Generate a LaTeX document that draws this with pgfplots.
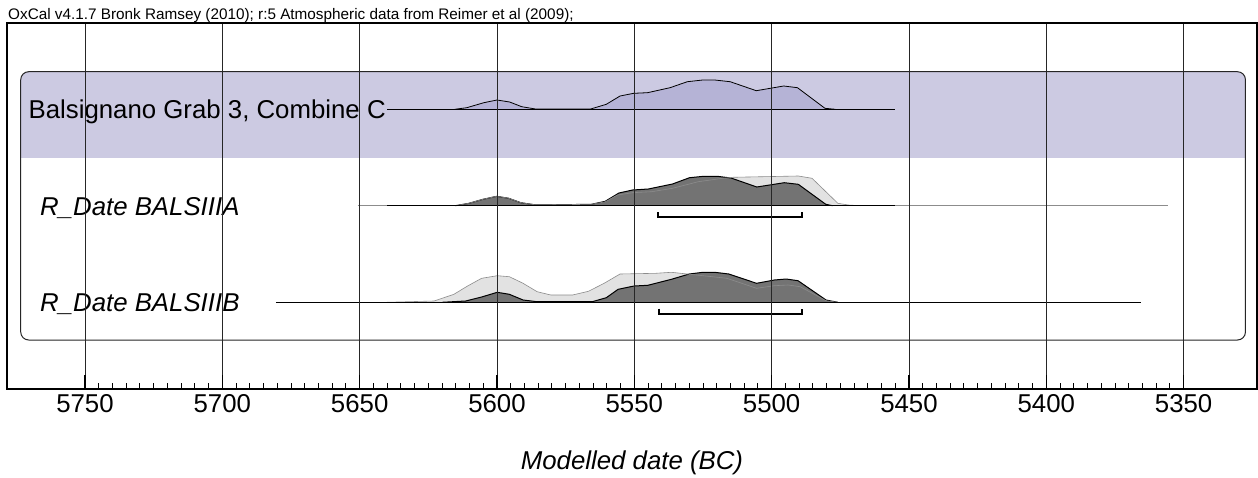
\documentclass[border=0pt]{standalone}
\usepackage{pgfplots}
\pgfplotsset{compat=1.18}
\usepackage{pgfplotstable}
\usepackage{fontspec}
\setmainfont{Liberation Sans}
\definecolor{band}{HTML}{CCCAE2}
\definecolor{combfill}{HTML}{B5B3D6}
\definecolor{post}{HTML}{737373}
\definecolor{like}{HTML}{E2E2E2}
\definecolor{likeline}{HTML}{8C8C8C}

% Row 1: Combine C (x = year BC, y = row position)
\pgfplotstableread{
x y
5615.4 109.3
5611.0 107.7
5604.8 102.7
5600.0 100.0
5595.4 102.0
5591.0 106.7
5586.0 109.0
5565.9 109.0
5560.2 104.3
5555.2 96.0
5550.2 93.3
5545.2 92.7
5537.0 87.7
5530.7 81.7
5525.1 80.0
5520.7 80.0
5515.1 81.7
5505.6 90.7
5495.6 86.0
5490.6 87.7
5480.6 108.3
5476.8 109.3
}\combC

% Row 2: BALSIIIA posterior
\pgfplotstableread{
x y
5615.2 205.7
5610.2 203.3
5605.1 199.3
5600.1 196.3
5595.7 198.3
5591.3 202.7
5585.7 205.0
5565.6 204.3
5560.6 201.3
5555.6 193.0
5550.6 190.0
5544.9 189.0
5536.1 184.0
5529.9 177.7
5524.8 176.3
5519.8 176.3
5514.8 178.0
5505.4 187.0
5495.4 182.7
5490.3 184.3
5480.3 204.3
5477.8 205.7
}\Apost

% Row 2: BALSIIIA likelihood
\pgfplotstableread{
x y
5615.2 205.7
5610.2 203.3
5605.1 199.3
5600.1 196.3
5595.7 198.3
5591.3 202.7
5585.7 205.0
5565.6 204.3
5560.6 201.8
5556.2 195.0
5550.6 192.7
5543.7 191.7
5536.1 188.3
5526.7 181.7
5517.9 178.3
5514.2 177.3
5490.3 176.0
5485.3 178.3
5475.9 203.3
5472.1 205.0
5467.8 205.7
}\Alike

% Row 3: BALSIIIB likelihood
\pgfplotstableread{
x y
5640.2 302.3
5622.9 301.0
5615.7 294.3
5610.7 286.0
5605.6 278.3
5599.9 275.7
5595.5 276.7
5590.5 283.3
5585.4 291.7
5580.4 295.0
5572.5 295.0
5566.7 291.3
5561.0 283.3
5555.2 274.0
5542.2 273.3
5536.5 272.3
5530.7 274.0
5525.0 275.7
5516.3 278.3
5505.5 288.3
5499.0 285.7
5494.0 285.0
5489.6 286.7
5480.2 300.7
5475.9 302.3
}\Blike

% Row 3: BALSIIIB posterior
\pgfplotstableread{
x y
5620.0 302.3
5611.4 301.0
5605.6 297.0
5599.9 292.3
5595.5 294.3
5590.5 300.0
5585.4 301.7
5565.3 301.7
5560.2 297.7
5555.9 289.3
5550.1 286.0
5545.1 285.3
5536.5 279.3
5530.0 274.0
5525.0 272.3
5520.7 272.3
5515.6 274.0
5505.5 283.3
5499.0 280.0
5494.7 279.0
5490.4 280.7
5480.2 300.0
5475.9 302.3
}\Bpost

\begin{document}
\begin{tikzpicture}
\useasboundingbox (0pt,0pt) rectangle (1258pt,-478pt);
\node[anchor=base west, inner sep=0, font=\fontsize{15.3}{18}\selectfont] at (8pt,-20pt)
  {OxCal v4.1.7 Bronk Ramsey (2010); r:5 Atmospheric data from Reimer et al (2009);};
\begin{axis}[
  scale only axis, width=1249.4pt, height=366pt,
  at={(632pt,-206pt)}, anchor=center,
  x dir=reverse, y dir=reverse,
  xmin=5323.4, xmax=5778.3, ymin=23, ymax=389,
  no markers,
  axis line style={line width=2pt, black},
  xtick={5350,5400,...,5750},
  minor x tick num=9,
  ytick=\empty,
  xtick pos=left, tick align=inside,
  major tick length=14pt, minor tick length=6.5pt,
  major tick style={line width=1.4pt, black},
  minor tick style={line width=0.9pt, black},
  xmajorgrids,
  major grid style={black!85, line width=0.9pt},
  axis on top,
  xticklabel style={font=\fontsize{25.8}{30}\selectfont, inner sep=5.5pt},
  /pgf/number format/1000 sep={},
  /pgf/number format/assume math mode=true,
]
% group box
\draw[fill=white, draw=none] (axis cs:5773.4,71.7) rectangle (axis cs:5327.5,340);
\begin{scope}
\clip[rounded corners=8pt] (axis cs:5773.4,71.7) rectangle (axis cs:5327.5,340);
\fill[band] (axis cs:5780,60) rectangle (axis cs:5320,157.7);
\end{scope}
\draw[draw=black!85, line width=1pt, rounded corners=8pt] (axis cs:5773.4,71.7) rectangle (axis cs:5327.5,340);

% labels
\node[anchor=base west, inner sep=0, font=\fontsize{25.8}{30}\selectfont] at (axis cs:5770.6,118.3) {Balsignano Grab 3, Combine C};
\node[anchor=base west, inner sep=0, font=\fontsize{25.8}{30}\selectfont\itshape] at (axis cs:5766.4,215) {R\_Date BALSIIIA};
\node[anchor=base west, inner sep=0, font=\fontsize{25.8}{30}\selectfont\itshape] at (axis cs:5766.4,311.7) {R\_Date BALSIIIB};

% row 1
\addplot[fill=combfill, draw=black, line width=0.8pt] table {\combC};
\addplot[black, line width=1.5pt] coordinates {(5640,109.3) (5455,109.3)};

% row 2
\addplot[fill=like, draw=none] table {\Alike};
\addplot[fill=post, draw=black, line width=1pt] table {\Apost};
\addplot[draw=likeline, line width=0.6pt] table {\Alike};
\addplot[draw=black!45, line width=0.8pt] coordinates {(5650.7,205.7) (5355.6,205.7)};
\addplot[black, line width=1.5pt] coordinates {(5640,205.7) (5455,205.7)};
\addplot[black, line width=2pt] coordinates {(5541.2,212.3) (5541.2,217.3) (5488.8,217.3) (5488.8,212.3)};

% row 3
\addplot[fill=like, draw=none] table {\Blike};
\addplot[fill=post, draw=black, line width=1pt] table {\Bpost};
\addplot[draw=likeline, line width=0.6pt] table {\Blike};
\addplot[black, line width=0.8pt] coordinates {(5680.5,302.3) (5365.4,302.3)};
\addplot[black, line width=1.5pt] coordinates {(5640,302.3) (5455,302.3)};
\addplot[black, line width=2pt] coordinates {(5541.1,308.7) (5541.1,314.3) (5488.9,314.3) (5488.9,308.7)};
\end{axis}
\node[anchor=base, font=\fontsize{25.8}{30}\selectfont\itshape] at (632pt,-469pt) {Modelled date (BC)};
\end{tikzpicture}
\end{document}
